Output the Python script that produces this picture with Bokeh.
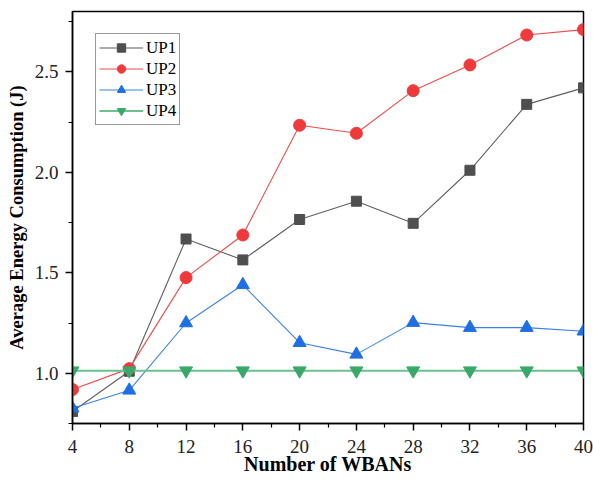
from bokeh.plotting import figure
from bokeh.models import FixedTicker, NumeralTickFormatter, Range1d
from bokeh.embed import file_html
from bokeh.resources import INLINE

x_wbans = [4, 8, 12, 16, 20, 24, 28, 32, 36, 40]
up1 = [0.81, 1.01, 1.668, 1.564, 1.765, 1.856, 1.746, 2.01, 2.338, 2.42]
up2 = [0.919, 1.023, 1.476, 1.688, 2.234, 2.194, 2.406, 2.534, 2.683, 2.71]
up3 = [0.826, 0.915, 1.25, 1.44, 1.152, 1.094, 1.252, 1.227, 1.227, 1.209]
up4 = [1.013, 1.013, 1.013, 1.013, 1.013, 1.013, 1.013, 1.013, 1.013, 1.013]
series_names = ["UP1", "UP2", "UP3", "UP4"]
x_ticks = [4, 8, 12, 16, 20, 24, 28, 32, 36, 40]
y_ticks = [1.0, 1.5, 2.0, 2.5]

FONT = "Liberation Serif"

p = figure(width=593, height=481, output_backend="svg", toolbar_location=None,
           x_range=Range1d(4, 40), y_range=Range1d(0.75, 2.8),
           min_border_left=72, min_border_right=10, min_border_top=11, min_border_bottom=58)
p.background_fill_color = "white"
p.border_fill_color = "white"
p.xgrid.visible = False
p.ygrid.visible = False
p.outline_line_color = "black"
p.outline_line_width = 1.5
p.outline_line_alpha = 1.0

styles = [
    (up1, "#4f4f4f", "#5e5e5e", "square", 10),
    (up2, "#ef3a3c", "#f04a4b", "circle", 12),
    (up3, "#1f6fe3", "#3a80e6", "triangle", 13),
    (up4, "#3aa86b", "#6cc18d", "inverted_triangle", 13),
]
for (vals, mcol, lcol, marker, size), name in zip(styles, series_names):
    lw = 2 if name == "UP4" else 1.1
    p.line(x_wbans, vals, line_color=lcol, line_width=lw, legend_label=name)
    p.scatter(x_wbans, vals, marker=marker, size=size, fill_color=mcol, line_color=mcol,
              legend_label=name)

p.xaxis.ticker = FixedTicker(ticks=x_ticks, minor_ticks=[6, 10, 14, 18, 22, 26, 30, 34, 38])
p.yaxis.ticker = FixedTicker(ticks=y_ticks, minor_ticks=[0.75, 1.25, 1.75, 2.25, 2.75])
p.yaxis.formatter = NumeralTickFormatter(format="0.0")

for ax in (p.xaxis, p.yaxis):
    ax.axis_line_color = "black"
    ax.axis_line_width = 1.5
    ax.major_tick_line_color = "black"
    ax.major_tick_line_width = 1.5
    ax.minor_tick_line_color = "black"
    ax.minor_tick_line_width = 1.2
    ax.major_tick_out = 7
    ax.major_tick_in = 0
    ax.minor_tick_out = 4
    ax.minor_tick_in = 0
    ax.major_label_text_font = FONT
    ax.major_label_text_font_size = "19px"
    ax.major_label_text_color = "#222222"
    ax.axis_label_text_font = FONT
    ax.axis_label_text_font_style = "bold"
    ax.axis_label_text_color = "black"

p.xaxis.axis_label = "Number of WBANs"
p.xaxis.axis_label_text_font_size = "20px"
p.xaxis.major_label_standoff = 9
p.xaxis.axis_label_standoff = -3
p.yaxis.axis_label = "Average Energy Consumption (J)"
p.yaxis.axis_label_text_font_size = "18.5px"
p.yaxis.major_label_standoff = 7
p.yaxis.axis_label_standoff = 5

lg = p.legend[0]
lg.location = (23, 298)
lg.border_line_color = "#333333"
lg.border_line_width = 1
lg.background_fill_alpha = 1
lg.label_text_font = FONT
lg.label_text_font_size = "17px"
lg.label_text_color = "black"
lg.padding = 3
lg.margin = 0
lg.spacing = 0
lg.glyph_height = 21
lg.label_height = 21
lg.glyph_width = 44
lg.label_standoff = 3

open("out.html", "w").write(file_html(p, INLINE))
